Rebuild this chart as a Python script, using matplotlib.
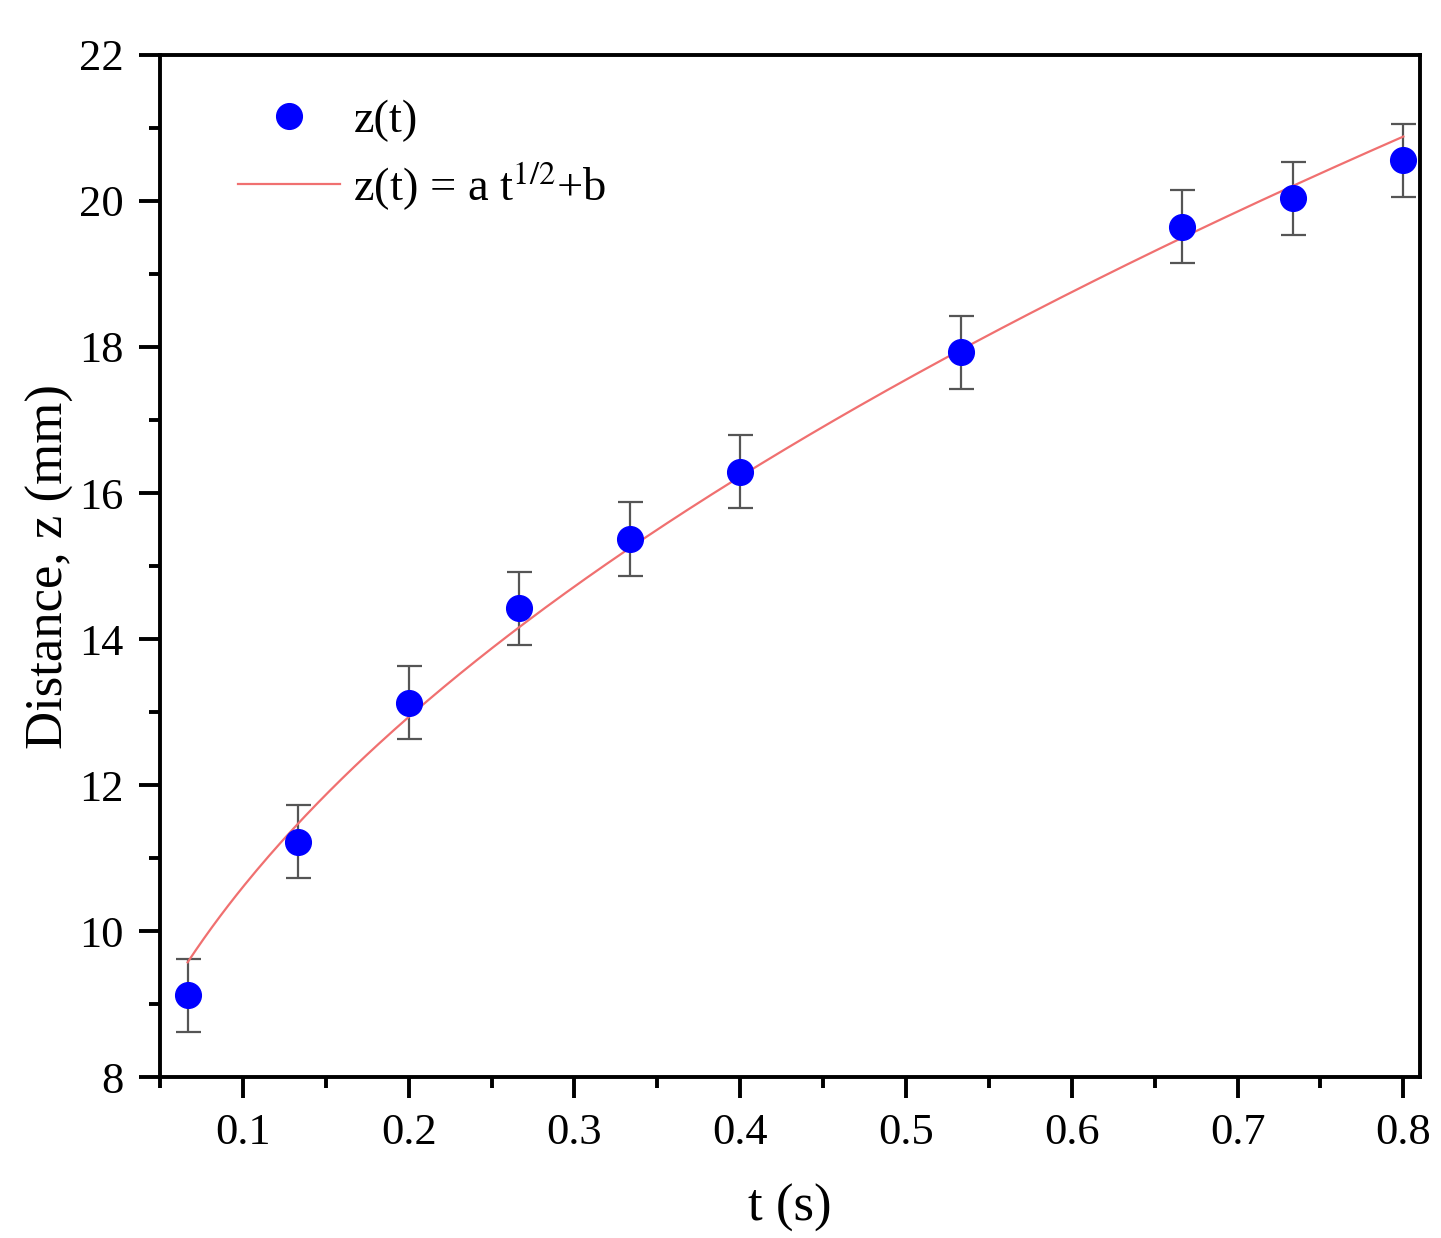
import numpy as np
import matplotlib
matplotlib.use("Agg")
import matplotlib.pyplot as plt
from matplotlib.ticker import MultipleLocator

plt.rcParams['font.family'] = ['Liberation Serif', 'DejaVu Serif']
plt.rcParams['mathtext.fontset'] = 'stix'

# data
t_s = [0.0667, 0.1333, 0.2, 0.2667, 0.3333, 0.4, 0.5333, 0.6667, 0.7333, 0.8]
z_mm = [9.12, 11.22, 13.13, 14.42, 15.37, 16.29, 17.93, 19.65, 20.04, 20.56]
z_err = [0.5, 0.5, 0.5, 0.5, 0.5, 0.5, 0.5, 0.5, 0.5, 0.5]
# fit z = a t^1/2 + b, parameters
fit_a = 17.78
fit_b = 4.98

fig = plt.figure(figsize=(14.41, 12.38), dpi=100)
ax = fig.add_axes([0.111, 0.130, 0.8744, 0.8256])

t = np.array(t_s)
tt = np.linspace(t.min(), t.max(), 300)
ax.errorbar(t_s, z_mm, yerr=z_err, fmt='none', ecolor='#555555',
            elinewidth=1.6, capsize=9, capthick=1.6, zorder=2)
ax.plot(tt, fit_a * np.sqrt(tt) + fit_b, color='#f07070', lw=1.6, zorder=3,
        label=r'z(t) = a t$^{1/2}$+b')
ax.plot(t_s, z_mm, 'o', color='#0000ff', ms=18.5, mec='#0000ff', zorder=4,
        label='z(t)')

ax.set_xlim(0.05, 0.81)
ax.set_ylim(8, 22)
ax.xaxis.set_major_locator(MultipleLocator(0.1))
ax.xaxis.set_minor_locator(MultipleLocator(0.05))
ax.yaxis.set_major_locator(MultipleLocator(2))
ax.yaxis.set_minor_locator(MultipleLocator(1))
ax.xaxis.set_major_formatter(plt.FuncFormatter(lambda v, p: ('%.1f' % v)))

for s in ax.spines.values():
    s.set_linewidth(2.8)
ax.tick_params(which='major', direction='out', length=15, width=2.8,
               labelsize=32, pad=11, top=False, right=False)
ax.tick_params(which='minor', direction='out', length=8, width=2.8,
               top=False, right=False)

ax.set_xlabel('t (s)', fontsize=38, labelpad=22)
ax.set_ylabel('Distance, z (mm)', fontsize=38, labelpad=4)

h, l = ax.get_legend_handles_labels()
ax.legend(h[::-1], l[::-1], loc='upper left', bbox_to_anchor=(0.062, 0.956),
          frameon=False, fontsize=33.5, handlelength=2.2, handletextpad=0.28,
          labelspacing=0.35, borderpad=0, borderaxespad=0)

fig.savefig('out.png', dpi=100)
